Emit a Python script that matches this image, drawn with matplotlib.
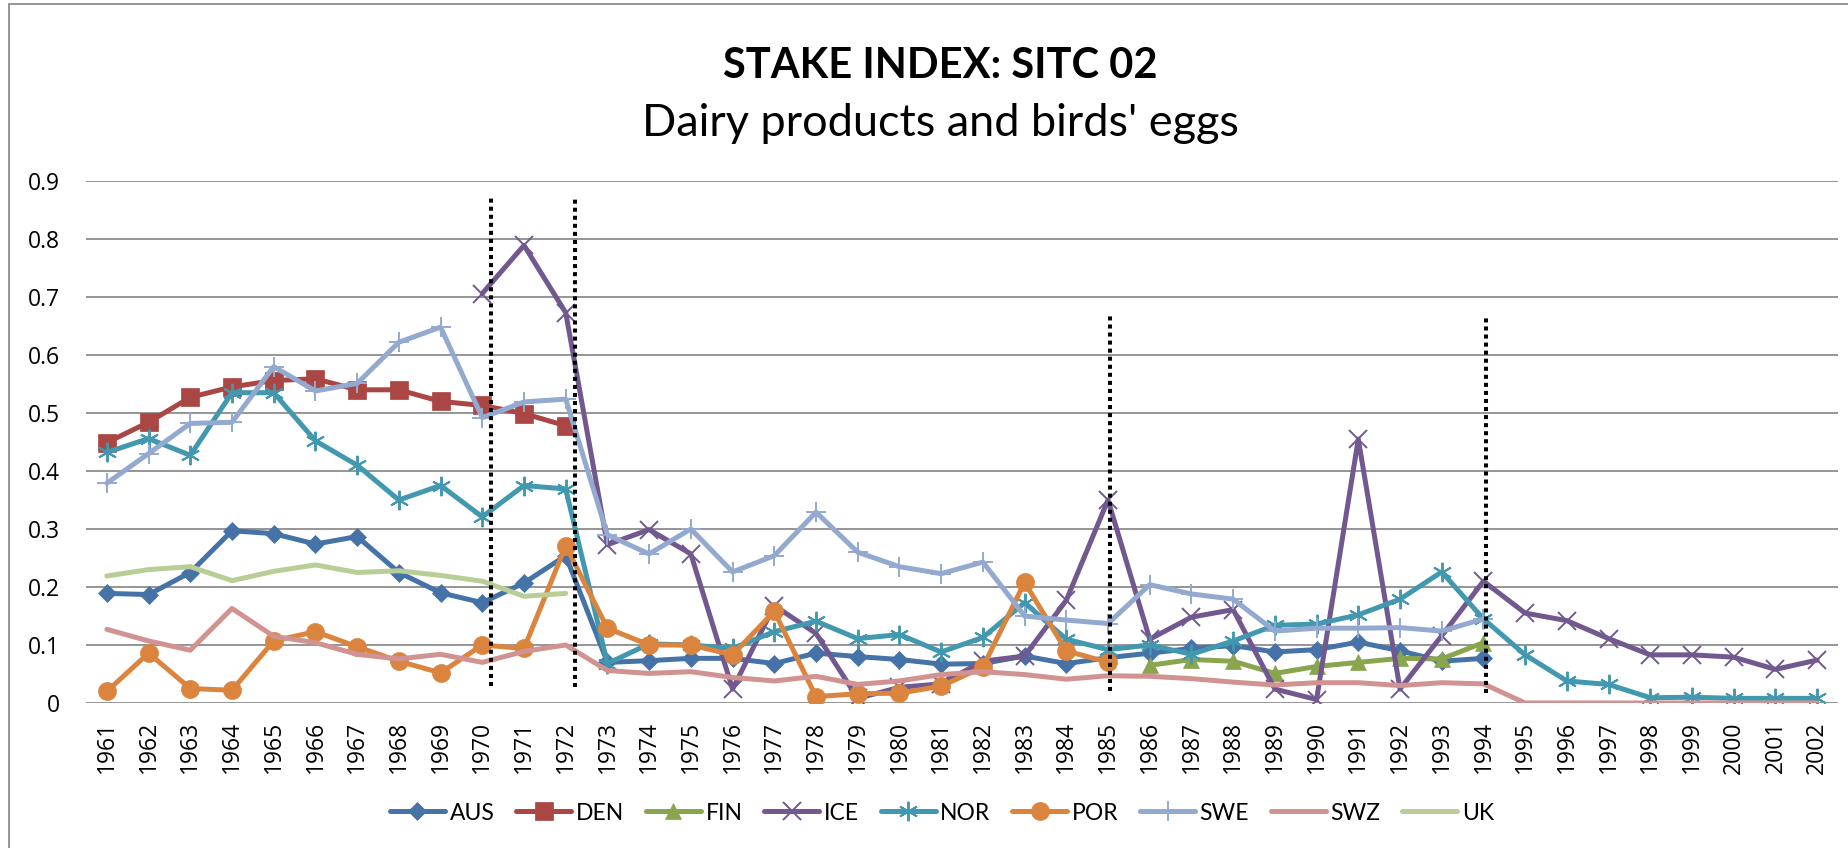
"""Stake index chart: SITC 02, dairy products and birds' eggs."""
import matplotlib

matplotlib.use("Agg")
import matplotlib.pyplot as plt
import numpy as np
from matplotlib.patches import Rectangle

years = list(range(1961, 2003))

# each series: first year + values
aus_start = 1961
aus = [0.189, 0.187, 0.225, 0.297, 0.292, 0.274, 0.287, 0.225, 0.190, 0.173,
       0.207, 0.254, 0.070, 0.073, 0.077, 0.077, 0.068, 0.086, 0.080, 0.075,
       0.067, 0.068, 0.081, 0.068, 0.078, 0.086, 0.094, 0.099, 0.088, 0.092,
       0.105, 0.090, 0.072, 0.077]
den_start = 1961
den = [0.449, 0.484, 0.527, 0.545, 0.556, 0.559, 0.540, 0.540, 0.520, 0.513,
       0.499, 0.478]
fin_start = 1986
fin = [0.065, 0.075, 0.072, 0.051, 0.063, 0.070, 0.077, 0.076, 0.104]
ice_start = 1970
ice = [0.706, 0.789, 0.673, 0.273, 0.299, 0.257, 0.024, 0.168, 0.120, 0.008,
       0.027, 0.033, 0.072, 0.081, 0.177, 0.350, 0.110, 0.148, 0.161, 0.024,
       0.006, 0.455, 0.024, 0.116, 0.210, 0.155, 0.142, 0.111, 0.083, 0.083,
       0.079, 0.058, 0.074]
nor_start = 1961
nor = [0.432, 0.456, 0.427, 0.535, 0.535, 0.452, 0.410, 0.350, 0.375, 0.321,
       0.375, 0.369, 0.068, 0.102, 0.100, 0.094, 0.123, 0.141, 0.111, 0.118,
       0.088, 0.113, 0.173, 0.110, 0.092, 0.100, 0.084, 0.107, 0.134, 0.136,
       0.152, 0.179, 0.226, 0.145, 0.083, 0.038, 0.032, 0.009, 0.010, 0.008,
       0.008, 0.008]
por_start = 1961
por = [0.020, 0.086, 0.025, 0.022, 0.107, 0.123, 0.097, 0.072, 0.052, 0.100,
       0.094, 0.271, 0.129, 0.100, 0.100, 0.083, 0.158, 0.011, 0.016, 0.017,
       0.029, 0.062, 0.208, 0.090, 0.070]
swe_start = 1961
swe = [0.379, 0.430, 0.482, 0.484, 0.580, 0.538, 0.551, 0.622, 0.648, 0.492,
       0.519, 0.524, 0.290, 0.257, 0.300, 0.226, 0.254, 0.329, 0.260, 0.235,
       0.223, 0.243, 0.150, 0.143, 0.137, 0.204, 0.188, 0.179, 0.124, 0.129,
       0.129, 0.130, 0.124, 0.145]
swz_start = 1961
swz = [0.127, 0.107, 0.091, 0.163, 0.115, 0.104, 0.084, 0.076, 0.084, 0.070,
       0.089, 0.100, 0.056, 0.051, 0.054, 0.044, 0.038, 0.046, 0.032, 0.038,
       0.049, 0.054, 0.049, 0.041, 0.047, 0.046, 0.042, 0.036, 0.031, 0.035,
       0.035, 0.030, 0.035, 0.033, 0.0, 0.0, 0.0, 0.0, 0.0, 0.0, 0.0, 0.0]
uk_start = 1961
uk = [0.219, 0.230, 0.235, 0.211, 0.227, 0.238, 0.225, 0.228, 0.220, 0.210,
      0.184, 0.189]

# dotted period markers (year position, top, bottom)
break_years = [1970.2, 1972.22, 1985.05, 1994.07]
break_tops = [0.873, 0.870, 0.673, 0.669]
break_bottoms = [0.030, 0.027, 0.020, 0.017]

series = [
    ("AUS", aus_start, aus, "#4572A7", "D", 9),
    ("DEN", den_start, den, "#AA4643", "s", 12.5),
    ("FIN", fin_start, fin, "#89A54E", "^", 12),
    ("ICE", ice_start, ice, "#71588F", "x", 13),
    ("NOR", nor_start, nor, "#4198AF", (6, 2, 0), 14),
    ("POR", por_start, por, "#DB843D", "o", 13),
    ("SWE", swe_start, swe, "#93A9CF", "+", 14),
    ("SWZ", swz_start, swz, "#D19392", None, 0),
    ("UK", uk_start, uk, "#B9CD96", None, 0),
]

W, H = 1848, 848
fig = plt.figure(figsize=(W / 100, H / 100), dpi=100)
fig.patch.set_facecolor("white")

# outer chart border (only top and left visible)
fig.add_artist(Rectangle((9 / W, -0.5), 2, 1.5 - 4 / H, transform=fig.transFigure,
                         fill=False, edgecolor="#8c8c8c", lw=1.3))

ax = fig.add_axes([86 / W, 1 - 703 / H, (1838 - 86) / W, (703 - 181) / H])

for name, start, vals, color, marker, ms in series:
    x = np.arange(len(vals)) + (start - years[0])
    thin = marker in ("x", "+") or isinstance(marker, tuple)
    ax.plot(x, vals, color=color, lw=3.6, label=name,
            marker=marker, markersize=ms,
            markeredgewidth=1.4 if thin else 0.5,
            markeredgecolor=color, markerfacecolor=color,
            solid_capstyle="round", solid_joinstyle="round", zorder=3)

for bx, top, bot in zip(break_years, break_tops, break_bottoms):
    ax.plot([bx - years[0]] * 2, [bot, top], color="black", lw=2.9,
            linestyle=(0, (1, 1)), dash_capstyle="butt", zorder=5)

ax.set_xlim(-0.5, len(years) - 0.5)
ax.set_ylim(0, 0.9)
ax.set_yticks(np.arange(0, 0.91, 0.1))
ax.set_yticklabels(["0"] + [f"{v:.1f}" for v in np.arange(0.1, 0.91, 0.1)])
ax.set_xticks(np.arange(len(years)))
ax.set_xticklabels([str(y) for y in years], rotation=90)
ax.tick_params(axis="y", length=0, pad=19, labelsize=16.5)
ax.tick_params(axis="x", length=0, pad=13, labelsize=16.5)
for lab in ax.get_xticklabels() + ax.get_yticklabels():
    lab.set_family("Open Sans")

ax.grid(axis="y", color="#8c8c8c", lw=1.3, zorder=0)
ax.set_axisbelow(True)
for sp in ax.spines.values():
    sp.set_visible(False)

fig.text(0.509, 1 - 78 / H, "STAKE INDEX: SITC 02", ha="center", va="baseline",
         fontsize=30, fontweight="bold", family="Lato")
fig.text(0.509, 1 - 136 / H, "Dairy products and birds' eggs", ha="center",
         va="baseline", fontsize=32.5, family="Lato")

ax.legend(loc="center", bbox_to_anchor=(942 / W, 1 - 813 / H),
          bbox_transform=fig.transFigure, ncol=9, frameon=False,
          prop={"family": "Lato", "size": 16.5}, handlelength=2.4,
          handletextpad=0.2, columnspacing=0.95)

fig.savefig("out.png", dpi=100)
plt.close(fig)
